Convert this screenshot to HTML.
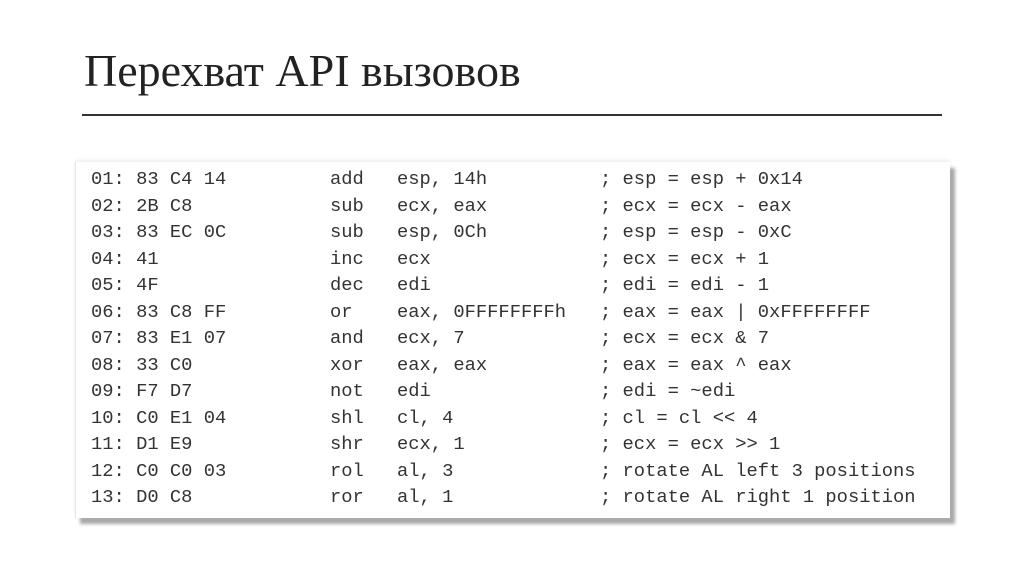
<!DOCTYPE html>
<html><head><meta charset="utf-8"><style>
body{margin:0;width:1024px;height:574px;background:#fff;position:relative;overflow:hidden}
.t{position:absolute;left:84px;top:44px;font-family:"Liberation Serif",serif;font-size:46px;color:#222}
.hr{position:absolute;left:82px;top:114px;width:860px;height:2px;background:#333}
.box{position:absolute;left:75px;top:162px;width:874px;height:356px;background:#fff;box-shadow:5px 6px 3px #aaa, 0 -2px 4px #eee;border-left:1px solid #e4e4e4}
.r{position:absolute;font-family:"Courier New","Liberation Mono",monospace;font-size:18.8px;color:#333;white-space:pre;line-height:20px}
</style></head><body>
<div class="t">Перехват API вызовов</div>
<div class="hr"></div>
<div class="box"></div>
<div id="c"></div>
<script>
var rows=[["01: 83 C4 14","add","esp, 14h","; esp = esp + 0x14"],
["02: 2B C8","sub","ecx, eax","; ecx = ecx - eax"],
["03: 83 EC 0C","sub","esp, 0Ch","; esp = esp - 0xC"],
["04: 41","inc","ecx","; ecx = ecx + 1"],
["05: 4F","dec","edi","; edi = edi - 1"],
["06: 83 C8 FF","or","eax, 0FFFFFFFFh","; eax = eax | 0xFFFFFFFF"],
["07: 83 E1 07","and","ecx, 7","; ecx = ecx & 7"],
["08: 33 C0","xor","eax, eax","; eax = eax ^ eax"],
["09: F7 D7","not","edi","; edi = ~edi"],
["10: C0 E1 04","shl","cl, 4","; cl = cl << 4"],
["11: D1 E9","shr","ecx, 1","; ecx = ecx >> 1"],
["12: C0 C0 03","rol","al, 3","; rotate AL left 3 positions"],
["13: D0 C8","ror","al, 1","; rotate AL right 1 position"]];
var xs=[91,330,397,600],h="";
rows.forEach(function(r,i){var y=169+i*26.5;r.forEach(function(s,j){
h+='<div class="r" style="left:'+xs[j]+'px;top:'+y+'px">'+s.replace(/&/g,'&amp;').replace(/</g,'&lt;').replace(/>/g,'&gt;')+'</div>';});});
document.getElementById('c').innerHTML=h;
</script>
</body></html>
